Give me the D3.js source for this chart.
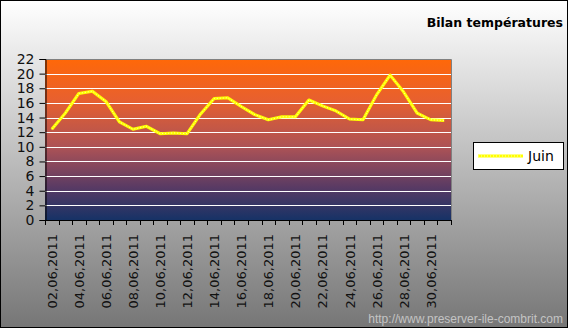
<!DOCTYPE html>
<html><head><meta charset="utf-8">
<script src="https://cdn.jsdelivr.net/npm/d3@7/dist/d3.min.js"></script>
<style>body{margin:0;padding:0;overflow:hidden}svg{display:block}</style>
</head><body>
<script>
const categories = ["02,06,2011","03,06,2011","04,06,2011","05,06,2011","06,06,2011","07,06,2011","08,06,2011","09,06,2011","10,06,2011","11,06,2011","12,06,2011","13,06,2011","14,06,2011","15,06,2011","16,06,2011","17,06,2011","18,06,2011","19,06,2011","20,06,2011","21,06,2011","22,06,2011","23,06,2011","24,06,2011","25,06,2011","26,06,2011","27,06,2011","28,06,2011","29,06,2011","30,06,2011","01,07,2011"];
// Labels shown on the axis (every other category)
const tickLabels = ["02,06,2011","04,06,2011","06,06,2011","08,06,2011","10,06,2011","12,06,2011","14,06,2011","16,06,2011","18,06,2011","20,06,2011","22,06,2011","24,06,2011","26,06,2011","28,06,2011","30,06,2011"];
const juin = [12.4,14.6,17.3,17.6,16.2,13.4,12.4,12.8,11.8,11.9,11.8,14.5,16.6,16.7,15.5,14.4,13.7,14.1,14.1,16.4,15.6,14.9,13.8,13.7,17.1,19.8,17.5,14.6,13.7,13.6];
const yTicks = [0,2,4,6,8,10,12,14,16,18,20,22];
const seriesName = "Juin";
const title = "Bilan températures";
const watermark = "http://www.preserver-ile-combrit.com";

const W = 568, H = 328;
const L = 45, R = 451, T = 59, B = 220;

const svg = d3.select("body").append("svg").attr("width", W).attr("height", H);
const defs = svg.append("defs");
const bg = defs.append("linearGradient").attr("id","bg").attr("x1",0).attr("y1",0).attr("x2",0).attr("y2",1);
bg.append("stop").attr("offset","0%").attr("stop-color","#ffffff");
bg.append("stop").attr("offset","100%").attr("stop-color","#767676");
const pg = defs.append("linearGradient").attr("id","pg").attr("x1",0).attr("y1",0).attr("x2",0).attr("y2",1);
pg.append("stop").attr("offset","0%").attr("stop-color","#ff6808");
pg.append("stop").attr("offset","25%").attr("stop-color","#e8602e");
pg.append("stop").attr("offset","55%").attr("stop-color","#ac5256");
pg.append("stop").attr("offset","80%").attr("stop-color","#583a64");
pg.append("stop").attr("offset","100%").attr("stop-color","#163266");

svg.append("rect").attr("x",0.5).attr("y",0.5).attr("width",W-1).attr("height",H-1)
  .attr("fill","url(#bg)").attr("stroke","#000").attr("stroke-width",1);

const x = d3.scaleBand().domain(categories).range([L, R]).paddingInner(0).paddingOuter(0);
const y = d3.scaleLinear().domain([0,22]).range([B, T]);

svg.append("rect").attr("x",L).attr("y",T).attr("width",R-L).attr("height",B-T).attr("fill","url(#pg)");

// gridlines
svg.append("g").selectAll("line").data(yTicks.filter(d=>d>0 && d<22)).join("line")
  .attr("x1",L).attr("x2",R).attr("y1",d=>Math.round(y(d))+0.5).attr("y2",d=>Math.round(y(d))+0.5)
  .attr("stroke","#ffffff").attr("stroke-width",1);

// plot border top/right
svg.append("path").attr("d",`M${L},${T+0.5}H${R+0.5}V${B}`).attr("fill","none").attr("stroke","#808080").attr("stroke-width",1);

// y axis
const yAxis = d3.axisLeft(y).tickValues(yTicks).tickSize(6).tickPadding(5);
const gy = svg.append("g").attr("transform",`translate(${L+0.5},0)`).call(yAxis);
gy.select(".domain").attr("stroke","#000");
gy.selectAll(".tick line").attr("stroke","#000");
gy.selectAll("text").attr("font-family","DejaVu Sans").attr("font-size",14).attr("fill","#111");

// x axis: ticks at category boundaries
const boundaries = categories.map(c => x(c)).concat([R]);
svg.append("line").attr("x1",L).attr("x2",R+1).attr("y1",B+0.5).attr("y2",B+0.5).attr("stroke","#000");
svg.append("g").selectAll("line").data(boundaries).join("line")
  .attr("x1",d=>Math.round(d)+0.5).attr("x2",d=>Math.round(d)+0.5).attr("y1",B).attr("y2",B+5).attr("stroke","#000");
svg.append("g").selectAll("text").data(tickLabels).join("text")
  .attr("transform",d=>`translate(${x(d)+x.bandwidth()/2+5},${B+14}) rotate(-90)`)
  .attr("text-anchor","end")
  .attr("font-family","DejaVu Sans").attr("font-size",13).attr("fill","#111")
  .text(d=>d);

// line
const line = d3.line().x((d,i)=>x(categories[i])+x.bandwidth()/2).y(d=>y(d));
svg.append("path").datum(juin).attr("d",line).attr("fill","none")
  .attr("stroke","#ffff00").attr("stroke-width",3).attr("stroke-linejoin","round");
svg.append("path").datum(juin).attr("d",line).attr("fill","none")
  .attr("stroke","#ffffb0").attr("stroke-width",1).attr("stroke-dasharray","1,2");

// legend
const lg = svg.append("g");
lg.append("rect").attr("x",473.5).attr("y",142.5).attr("width",90).attr("height",27).attr("fill","#fff").attr("stroke","#000");
lg.append("line").attr("x1",478).attr("x2",523).attr("y1",156).attr("y2",156).attr("stroke","#ffff00").attr("stroke-width",3);
lg.append("line").attr("x1",478).attr("x2",523).attr("y1",156).attr("y2",156).attr("stroke","#ffffb0").attr("stroke-width",1).attr("stroke-dasharray","1,2");
lg.append("text").attr("x",528).attr("y",161).attr("font-family","DejaVu Sans").attr("font-size",14).attr("fill","#000").text(seriesName);

// title
svg.append("text").attr("x",563).attr("y",27).attr("text-anchor","end")
  .attr("font-family","DejaVu Sans").attr("font-weight","bold").attr("font-size",12.5).attr("fill","#000").text(title);

// watermark
svg.append("text").attr("x",563).attr("y",323).attr("text-anchor","end")
  .attr("font-family","Liberation Sans").attr("font-size",12).attr("fill","#c4c4c4").text(watermark);
</script>
</body></html>
